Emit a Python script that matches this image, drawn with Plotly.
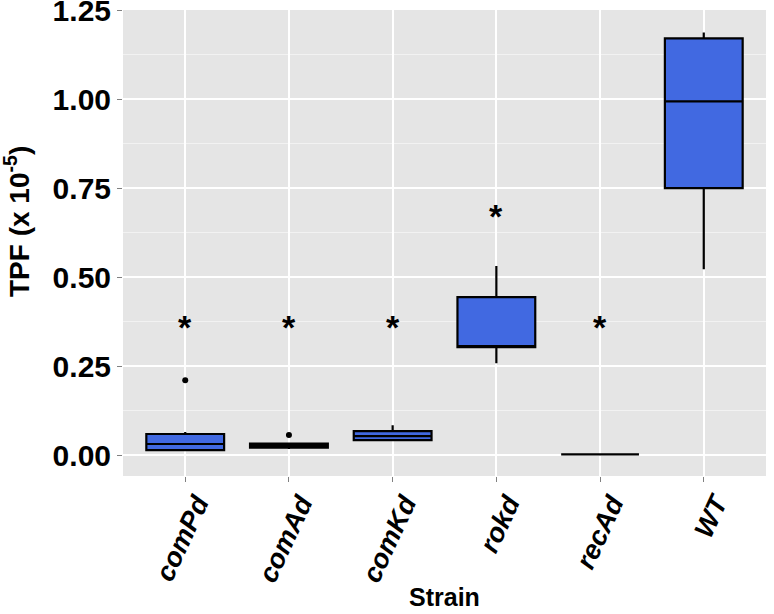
import plotly.graph_objects as go

# ---- data ----
strains = ["comPd", "comAd", "comKd", "rokd", "recAd", "WT"]
q1 = [0.014, 0.021, 0.042, 0.303, 0.002, 0.750]
median = [0.031, 0.027, 0.053, 0.306, 0.002, 0.994]
q3 = [0.059, 0.032, 0.067, 0.444, 0.002, 1.171]
lower = [0.011, 0.017, 0.042, 0.258, 0.002, 0.522]
upper = [0.065, 0.032, 0.084, 0.531, 0.002, 1.188]

outlier_strain = ["comPd", "comAd"]
outlier_value = [0.210, 0.056]

star_strain = ["comPd", "comAd", "comKd", "rokd", "recAd"]
star_value = [0.378, 0.378, 0.378, 0.688, 0.378]

y_ticks = [0.0, 0.25, 0.5, 0.75, 1.0, 1.25]

FONT = "Liberation Sans, Arial, sans-serif"

fig = go.Figure()
fig.add_trace(go.Box(
    x=strains, q1=q1, median=median, q3=q3,
    lowerfence=lower, upperfence=upper,
    fillcolor="#4169E1", line=dict(color="black", width=2.2),
    width=0.75, whiskerwidth=0, boxpoints=False, showlegend=False,
))
fig.add_trace(go.Scatter(
    x=outlier_strain, y=outlier_value, mode="markers",
    marker=dict(color="black", size=6), showlegend=False,
))
for s, v in zip(star_strain, star_value):
    fig.add_annotation(x=s, y=v, text="<b>*</b>", showarrow=False,
                       font=dict(family=FONT, size=34, color="black"),
                       xanchor="center", yanchor="middle", yshift=-6)

fig.add_annotation(xref="paper", yref="paper", x=(444.5 - 123) / 643, y=-(597 - 476) / 466,
                   text="Strain", showarrow=False, xanchor="center", yanchor="middle",
                   font=dict(family=FONT, size=25, color="black", weight="bold"))
fig.add_annotation(xref="paper", yref="paper", x=-(123 - 17) / 643, y=(476 - 222) / 466,
                   text="TPF (x 10<sup>-5</sup>)", textangle=-90, showarrow=False,
                   xanchor="center", yanchor="middle",
                   font=dict(family=FONT, size=28, color="black", weight="bold"))

fig.update_layout(
    width=774, height=614,
    margin=dict(l=123, r=8, t=10, b=138),
    plot_bgcolor="#E5E5E5", paper_bgcolor="white",
    font=dict(family=FONT, color="black"),
    xaxis=dict(
        type="category", categoryorder="array", categoryarray=strains,
        range=[-0.6, 5.6], showgrid=True, gridcolor="white", gridwidth=1.5,
        ticks="outside", ticklen=5, tickcolor="#808080", tickangle=-65,
        ticklabelshift=12, ticklabelstandoff=-5,
        tickfont=dict(family=FONT, size=27, color="black", weight="bold", style="italic"),
        zeroline=False, showline=False, automargin=False,
    ),
    yaxis=dict(
        range=[-0.059, 1.251], tickvals=y_ticks, tickformat=".2f",
        ticklabeloverflow="allow",
        showgrid=True, gridcolor="white", gridwidth=1.5,
        minor=dict(tickvals=[0.125, 0.375, 0.625, 0.875, 1.125], showgrid=True,
                   gridcolor="#F2F2F2", gridwidth=1, ticks=""),
        ticks="outside", ticklen=5, tickcolor="#808080",
        tickfont=dict(family=FONT, size=30, color="black", weight="bold"),
        zeroline=False, showline=False, automargin=False,
    ),
)

fig.write_html("out.html")
